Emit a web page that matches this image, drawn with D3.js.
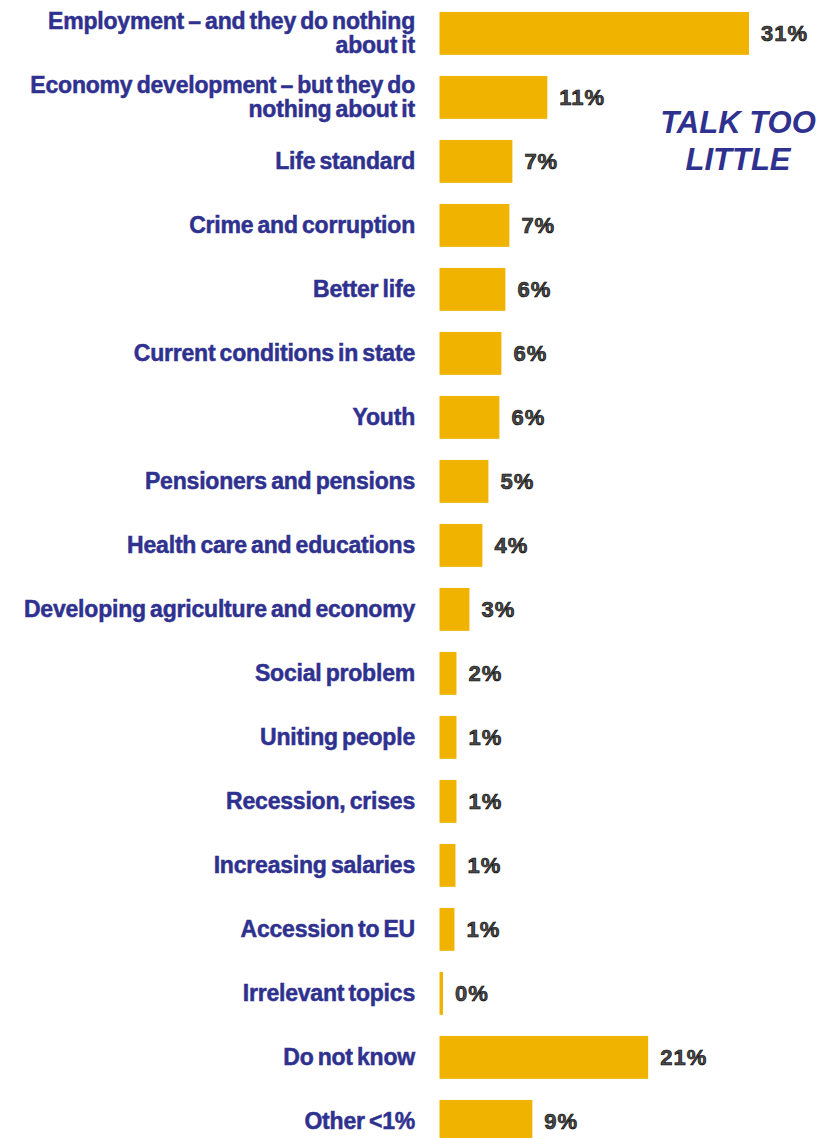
<!DOCTYPE html>
<html>
<head>
<meta charset="utf-8">
<script src="https://cdn.jsdelivr.net/npm/d3@7"></script>
<style>
  html, body { margin: 0; padding: 0; background: #ffffff; }
  svg { display: block; }
</style>
</head>
<body>
<div id="chart"></div>
<script>
// ---- data ----
const categories = [
  "Employment – and they do nothing|about it",
  "Economy development – but they do|nothing about it",
  "Life standard",
  "Crime and corruption",
  "Better life",
  "Current conditions in state",
  "Youth",
  "Pensioners and pensions",
  "Health care and educations",
  "Developing agriculture and economy",
  "Social problem",
  "Uniting people",
  "Recession, crises",
  "Increasing salaries",
  "Accession to EU",
  "Irrelevant topics",
  "Do not know",
  "Other <1%"
];
const values = [31.0, 10.8, 7.3, 7.0, 6.6, 6.2, 6.0, 4.9, 4.3, 3.0, 1.7, 1.7, 1.7, 1.6, 1.5, 0.35, 20.9, 9.3];
const valueLabels = ["31%", "11%", "7%", "7%", "6%", "6%", "6%", "5%", "4%", "3%", "2%", "1%", "1%", "1%", "1%", "0%", "21%", "9%"];
const annotationLines = ["TALK TOO", "LITTLE"];

// ---- layout ----
const W = 830, H = 1138;
const svg = d3.select("#chart").append("svg").attr("width", W).attr("height", H);

const x = d3.scaleLinear().domain([0, 31]).range([439.5, 749]);
const y = d3.scaleBand().domain(d3.range(categories.length))
  .range([1.4, 1153.4]).paddingInner(0.33).paddingOuter(0.165);

const barColor = "#F0B400";
const textColor = "#2f318f";

// bars
svg.append("g").selectAll("rect").data(values).join("rect")
  .attr("x", x(0))
  .attr("y", (d, i) => y(i))
  .attr("width", d => Math.max(0, x(d) - x(0)))
  .attr("height", y.bandwidth())
  .attr("fill", barColor);

// category labels
const labG = svg.append("g")
  .attr("font-family", "'Liberation Sans', Arial, sans-serif")
  .attr("font-weight", "bold")
  .attr("font-size", 23)
  .attr("letter-spacing", "-0.2px")
  .attr("word-spacing", "-2px")
  .attr("fill", textColor)
  .attr("stroke", textColor)
  .attr("stroke-width", 0.5)
  .attr("text-anchor", "end");

categories.forEach((c, i) => {
  const lines = c.split("|");
  const cy = y(i) + y.bandwidth() / 2;
  const lh = 24;
  lines.forEach((ln, k) => {
    labG.append("text")
      .attr("x", 415)
      .attr("y", cy + (k - (lines.length - 1) / 2) * lh)
      .attr("dy", "0.35em")
      .text(ln);
  });
});

// value labels
svg.append("g")
  .attr("font-family", "'Liberation Sans', Arial, sans-serif")
  .attr("font-weight", "bold")
  .attr("font-size", 22)
  .attr("letter-spacing", "1px")
  .selectAll("text").data(values).join("text")
  .attr("x", d => x(d) + 12)
  .attr("y", (d, i) => y(i) + y.bandwidth() / 2)
  .attr("dy", "0.35em")
  .attr("fill", "#4a4a4a")
  .attr("stroke", "#000")
  .attr("stroke-width", 0.6)
  .text((d, i) => valueLabels[i]);

// annotation
const ann = svg.append("text")
  .attr("font-family", "'Liberation Sans', Arial, sans-serif")
  .attr("font-weight", "bold")
  .attr("font-style", "italic")
  .attr("font-size", 31)
  .attr("fill", textColor)
  .attr("text-anchor", "middle");
annotationLines.forEach((ln, k) => {
  ann.append("tspan").attr("x", 738).attr("y", 133 + k * 37).text(ln);
});
</script>
</body>
</html>
